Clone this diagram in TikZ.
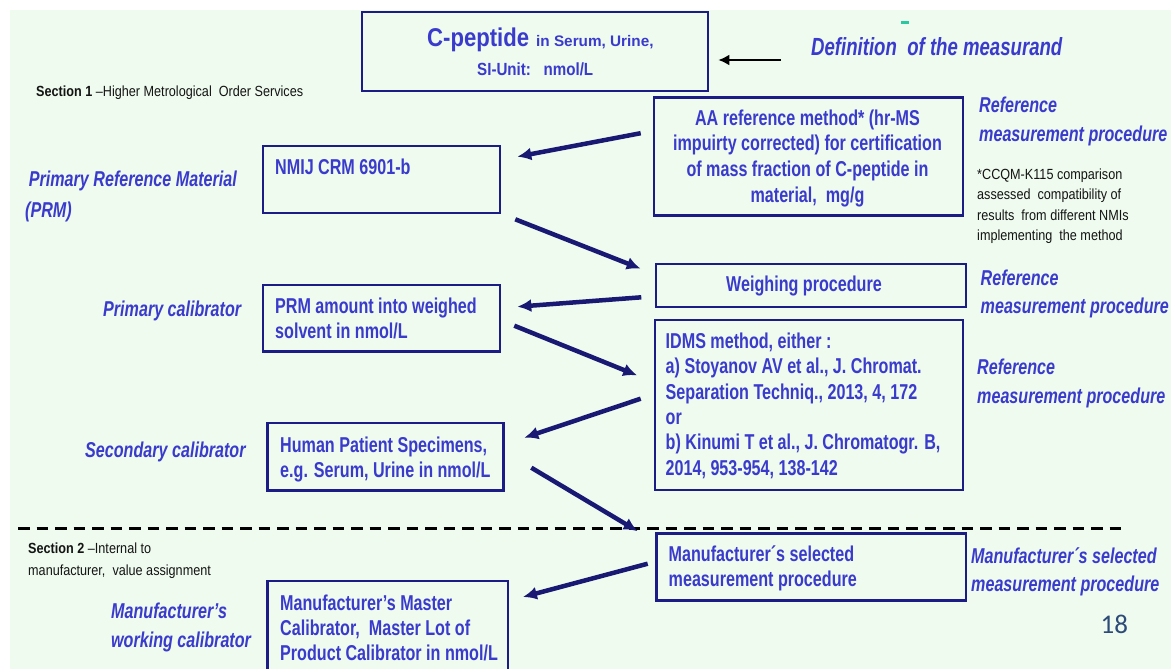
\documentclass[tikz,border=0pt]{standalone}
\usepackage{fontspec}
\setmainfont{Liberation Sans}
\newfontfamily\fA{Liberation Sans}[FakeStretch=0.75]
\newfontfamily\fB{Liberation Sans}[FakeStretch=0.86]
\newfontfamily\fN{Carlito}
\usetikzlibrary{arrows.meta,calc}
\definecolor{bgc}{RGB}{238,251,238}
\definecolor{txtc}{RGB}{58,58,205}
\definecolor{boxc}{RGB}{28,28,135}
\definecolor{arrc}{RGB}{25,25,115}
\definecolor{numc}{RGB}{45,75,120}
\definecolor{tealc}{RGB}{40,200,160}
\begin{document}
\begin{tikzpicture}[x=1pt,y=-1pt,
  box/.style={draw=boxc, line width=2.6pt, inner sep=0pt},
  btxt/.style={text=txtc, font=\fA\bfseries\fontsize{21.5}{25}\selectfont, anchor=base west, inner sep=0pt},
  ctxt/.style={btxt, anchor=base},
  lbl/.style={text=txtc, font=\fA\bfseries\itshape\fontsize{21.5}{25}\selectfont, anchor=base west, inner sep=0pt},
  smalltxt/.style={text=black!92, font=\fB\fontsize{14.7}{18}\selectfont, anchor=base west, inner sep=0pt},
  arr/.style={draw=arrc, line width=4.5pt, -{Latex[length=14pt,width=13pt]}},
  blackarr/.style={draw=black, line width=2.4pt, -{Latex[length=11pt,width=11pt]}},
  dashline/.style={draw=black, line width=2.6pt, dash pattern=on 11.5pt off 7pt}
]
\useasboundingbox (0,0) rectangle (1171,669);
\clip (0,0) rectangle (1171,669);
\fill[white] (0,0) rectangle (1171,669);
\fill[bgc] (10,10) rectangle (1171,669);
\fill[tealc] (901,21) rectangle (909,24);

% boxes
\node[box, minimum width=346pt, minimum height=79pt] (title) at (535,51.5) {};
\node[box, minimum width=309pt, minimum height=118pt] (aa) at (808.5,156.5) {};
\node[box, minimum width=237pt, minimum height=67pt] (nmij) at (381.5,179.5) {};
\node[box, minimum width=310pt, minimum height=43pt] (weigh) at (811,285.5) {};
\node[box, minimum width=237pt, minimum height=66.5pt] (prm) at (381.5,318.25) {};
\node[box, minimum width=308pt, minimum height=170pt] (idms) at (809,405) {};
\node[box, minimum width=236pt, minimum height=67.5pt] (human) at (385.5,456.75) {};
\node[box, minimum width=309.5pt, minimum height=67pt] (mfrsel) at (811.25,567) {};
\node[box, minimum width=240.5pt, minimum height=95pt] (master) at (387.75,628.5) {};

% title texts
\node[text=txtc, font=\fB\bfseries\fontsize{25.7}{30}\selectfont, anchor=base west, inner sep=0pt] (t1a) at (427,47) {C-peptide};
\node[text=txtc, font=\bfseries\fontsize{15.3}{18}\selectfont, anchor=base west, inner sep=0pt] (t1b) at (536,47) {in Serum, Urine,};
\node[text=txtc, font=\fB\bfseries\fontsize{17.6}{20}\selectfont, anchor=base west, inner sep=0pt] (t2) at (477,76) {SI-Unit:\ \ \ nmol/L};
\node[text=txtc, font=\fA\bfseries\itshape\fontsize{24.8}{28}\selectfont, anchor=base west, inner sep=0pt] (defn) at (811,56) {Definition\ \ of the measurand};

% small black texts
\node[smalltxt] (sec1) at (36,96) {\textbf{Section 1} –Higher Metrological\ \ Order Services};
\node[smalltxt] (cc1) at (977,179) {*CCQM-K115 comparison};
\node[smalltxt] (cc2) at (977,199.5) {assessed\ \ compatibility of};
\node[smalltxt] (cc3) at (977,220) {results\ \ from different NMIs};
\node[smalltxt] (cc4) at (977,240.5) {implementing\ \ the method};
\node[smalltxt] (sec2a) at (28,553) {\textbf{Section 2} –Internal to};
\node[smalltxt] (sec2b) at (28,575) {manufacturer,\ \ value assignment};

% AA box text
\node[ctxt] (aa1) at (807.5,125) {AA reference method* (hr-MS};
\node[ctxt] (aa2) at (807.5,150.5) {impuirty corrected) for certification};
\node[ctxt] (aa3) at (807.5,176) {of mass fraction of C-peptide in};
\node[ctxt] (aa4) at (807.5,202) {material,\ \ mg/g};

% other box texts
\node[btxt] (nm1) at (275,174) {NMIJ CRM 6901-b};
\node[ctxt] (we1) at (804,291) {Weighing procedure};
\node[btxt] (pr1) at (275,313) {PRM amount into weighed};
\node[btxt] (pr2) at (275,338) {solvent in nmol/L};
\node[btxt] (id1) at (665.5,348) {IDMS method, either :};
\node[btxt] (id2) at (665.5,373.5) {a) Stoyanov AV et al., J. Chromat.};
\node[btxt] (id3) at (665.5,399) {Separation Techniq., 2013, 4, 172};
\node[btxt] (id4) at (665.5,424) {or};
\node[btxt] (id5) at (665.5,449.5) {b) Kinumi T et al., J. Chromatogr. B,};
\node[btxt] (id6) at (665.5,475) {2014, 953-954, 138-142};
\node[btxt] (hu1) at (280,452) {Human Patient Specimens,};
\node[btxt] (hu2) at (280,477.5) {e.g. Serum, Urine in nmol/L};
\node[btxt] (ms1) at (668.5,561.5) {Manufacturer´s selected};
\node[btxt] (ms2) at (668.5,586.5) {measurement procedure};
\node[btxt] (ma1) at (280,610) {Manufacturer’s Master};
\node[btxt] (ma2) at (280,635) {Calibrator,\ \ Master Lot of};
\node[btxt] (ma3) at (280,660.5) {Product Calibrator in nmol/L};

% left labels
\node[lbl] (l1a) at (28.7,186) {Primary Reference Material};
\node[lbl] (l1b) at (25,217.5) {(PRM)};
\node[lbl] (l2) at (103,316) {Primary calibrator};
\node[lbl] (l3) at (85,457) {Secondary calibrator};
\node[lbl] (l4a) at (111,618) {Manufacturer’s};
\node[lbl] (l4b) at (111,647) {working calibrator};

% right labels
\node[lbl] (r1a) at (979,113) {Reference};
\node[lbl] (r1b) at (979,141.5) {measurement procedure};
\node[lbl] (r2a) at (980.5,285) {Reference};
\node[lbl] (r2b) at (980.5,313) {measurement procedure};
\node[lbl] (r3a) at (977,374) {Reference};
\node[lbl] (r3b) at (977,403) {measurement procedure};
\node[lbl] (r4a) at (971,563) {Manufacturer´s selected};
\node[lbl] (r4b) at (971,591.5) {measurement procedure};

% page number
\node[text=numc, font=\fN\fontsize{27}{30}\selectfont, anchor=base west, inner sep=0pt] (pnum) at (1100.5,633.5) {18};

% dashed separator
\coordinate (dl) at (18,528.5);
\coordinate (dr) at (1126,528.5);
\draw[dashline] (dl) -- (dr);

% connectors
\coordinate (defa) at (781,60);
\draw[blackarr] (defa) -- ($(title.east)+(9,8.5)$);
\draw[arr] ($(aa.north west)+(-12,37)$) -- ($(nmij.north east)+(16,12)$);
\draw[arr] ($(nmij.south east)+(14,5)$) -- ($(weigh.north west)+(-14,6)$);
\draw[arr] ($(weigh.south west)+(-13.4,-11)$) -- ($(prm.north east)+(16,23)$);
\draw[arr] ($(prm.north east)+(13,42)$) -- ($(idms.north west)+(-16.5,56.7)$);
\draw[arr] ($(idms.north west)+(-13,80)$) -- ($(human.north east)+(19.5,16)$);
\draw[arr] ($(human.north east)+(26.5,46)$) -- ($(mfrsel.north west)+(-17.5,-1)$);
\draw[arr] ($(mfrsel.north west)+(-7.5,31.5)$) -- ($(master.north east)+(13.6,17.3)$);
\end{tikzpicture}
\end{document}
